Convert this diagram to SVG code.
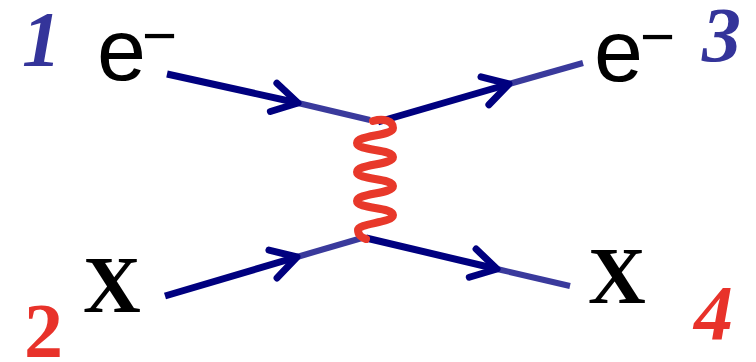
<svg xmlns="http://www.w3.org/2000/svg" width="756" height="362" viewBox="0 0 756 362">
<style>
.num{font-family:"Liberation Serif",serif;font-style:italic;font-weight:bold;font-size:78px}
.up{font-style:normal}
.blue{fill:#34349a}
.red{fill:#e8322a}
.e{font-family:"Liberation Sans",Arial,sans-serif;font-size:88px;fill:#000}
.m{font-size:60px}
.x{font-family:"Liberation Serif",serif;font-weight:bold;font-size:80px;fill:#000}
.dk{stroke:#00007f;stroke-width:7;stroke-linecap:butt;fill:none}
.lt{stroke:#3a3a9c;stroke-width:6;fill:none}
.ch{stroke:#00007f;stroke-width:7;stroke-linecap:round;stroke-linejoin:round;fill:none}
.ph{stroke:#e8382a;stroke-width:8;fill:none;stroke-linecap:round}
</style>
<defs>
<path id="chev" d="M -25 -14.5 L 0 0 L -25 14.5"/>
</defs>
<rect width="756" height="362" fill="#fff"/>
<g id="connectors">
<g id="e-in">
<line class="dk" x1="167" y1="74" x2="298" y2="103"/>
<line class="lt" x1="298" y1="103" x2="370" y2="120"/>
<use href="#chev" class="ch" transform="translate(298 103) rotate(13)"/>
</g>
<g id="e-out">
<line class="dk" x1="378" y1="122" x2="509" y2="84"/>
<line class="lt" x1="509" y1="84" x2="583" y2="63"/>
<use href="#chev" class="ch" transform="translate(509 84) rotate(-15.8)"/>
</g>
<g id="x-in">
<line class="dk" x1="165" y1="296" x2="297" y2="257"/>
<line class="lt" x1="297" y1="257" x2="362" y2="238"/>
<use href="#chev" class="ch" transform="translate(297 257) rotate(-16.3)"/>
</g>
<g id="x-out">
<line class="dk" x1="366" y1="238" x2="497" y2="269"/>
<line class="lt" x1="497" y1="269" x2="570" y2="286"/>
<use href="#chev" class="ch" transform="translate(497 269) rotate(13.5)"/>
</g>
<path id="photon" class="ph" d="M 373 121 C 384 118, 393 121, 393 128 C 393 136, 357 135, 357 143 C 357 151, 393 149, 393 157 C 393 165, 357 164, 357 172 C 357 180, 393 178, 393 186 C 393 194, 357 193, 357 201 C 357 209, 393 207, 393 215 C 393 223, 358 223, 358 230 C 358 235, 362 238, 366 239"/>
</g>
<g id="n1"><text class="num blue" x="22" y="65">1</text></g>
<g id="n2"><text class="num up red" x="24" y="357">2</text></g>
<g id="n3"><text class="num blue" x="702" y="61">3</text></g>
<g id="n4"><text class="num red" x="694" y="339">4</text></g>
<g id="e1"><text class="e" x="97" y="80">e<tspan class="m" x="142" y="56">−</tspan></text></g>
<g id="e3"><text class="e" x="594" y="81">e<tspan class="m" x="640" y="57">−</tspan></text></g>
<g id="x2"><text class="x" x="83" y="312">X</text></g>
<g id="x4"><text class="x" x="588" y="303">X</text></g>
</svg>
